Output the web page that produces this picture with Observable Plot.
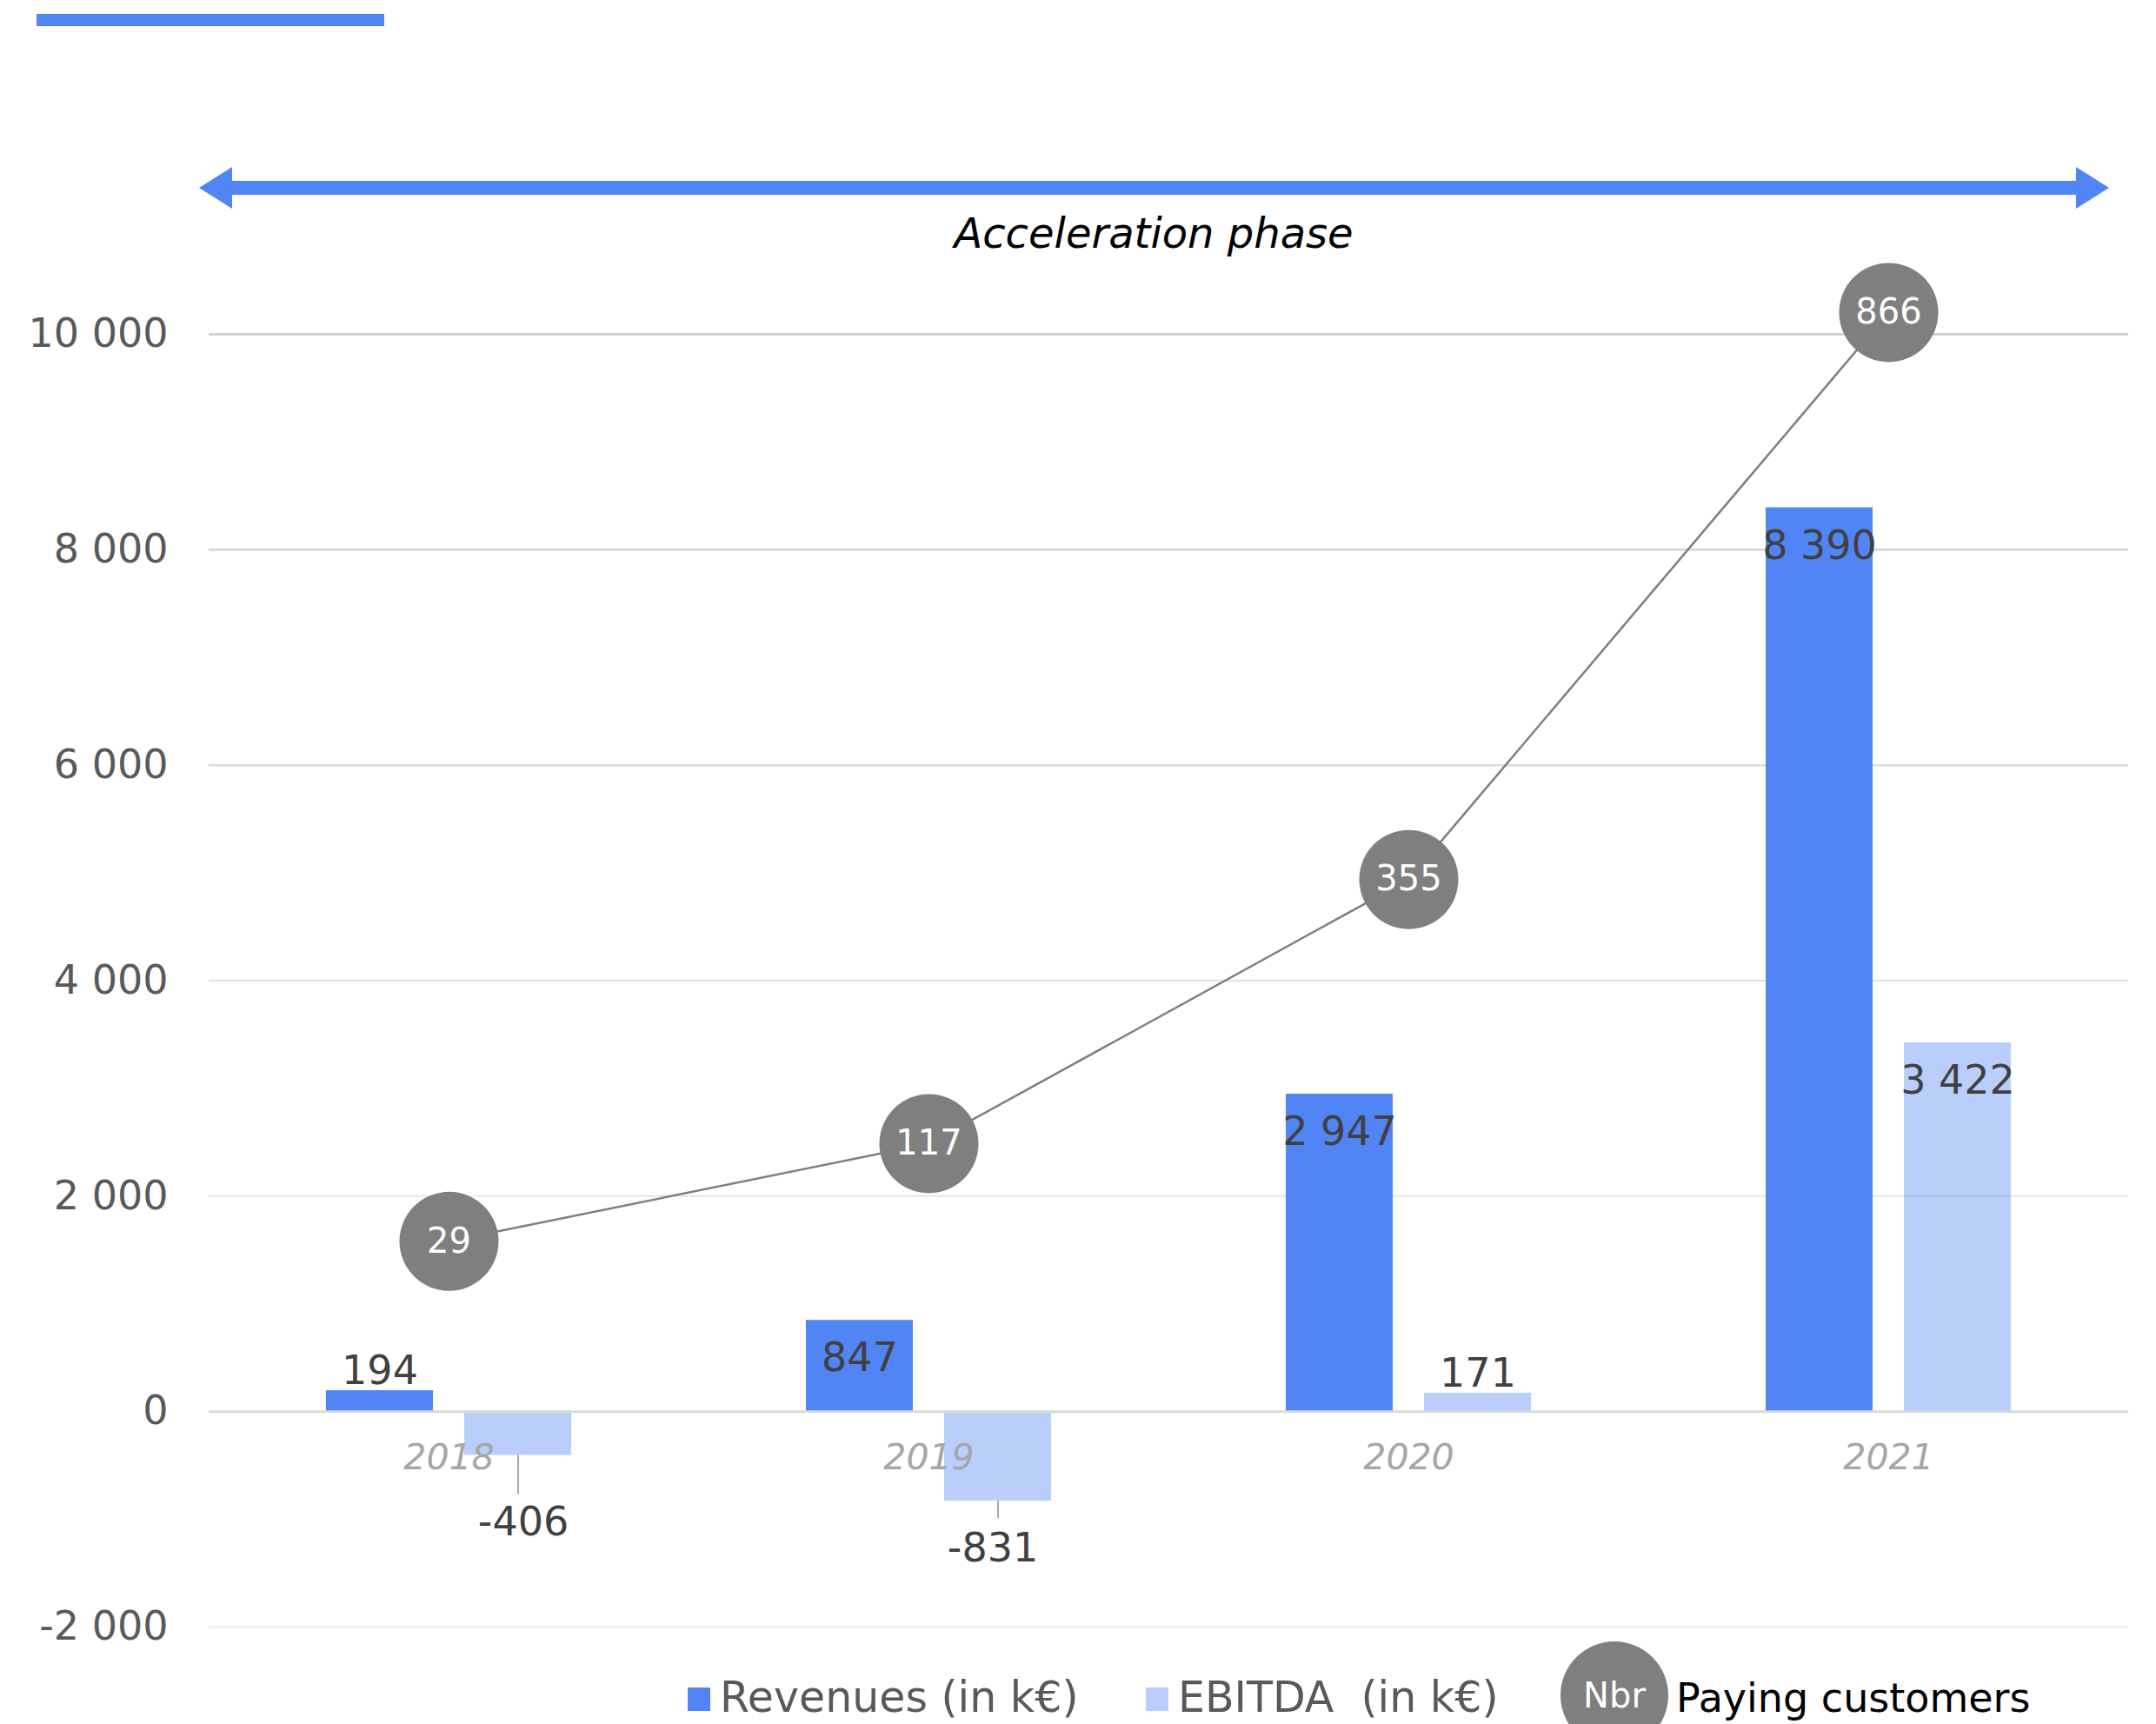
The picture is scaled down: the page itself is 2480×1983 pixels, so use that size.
<!DOCTYPE html>
<html>
<head>
<meta charset="utf-8">
<script src="https://cdn.jsdelivr.net/npm/d3@7"></script>
<script src="https://cdn.jsdelivr.net/npm/@observablehq/plot@0.6"></script>
<style>
  html, body { margin: 0; padding: 0; background: #ffffff; }
  #wrap { position: relative; width: 2480px; height: 1983px; overflow: hidden; font-family: "DejaVu Sans", sans-serif; }
  #wrap > svg, #wrap > figure { position: absolute; left: 0; top: 0; margin: 0; }
  text { white-space: pre; }
</style>
</head>
<body>
<div id="wrap"></div>
<script>
// ---------------- data ----------------
const years = ["2018", "2019", "2020", "2021"];
const revenues = [194, 847, 2947, 8390];          // k€
const ebitda = [-406, -831, 171, 3422];           // k€
const customers = [29, 117, 355, 866];            // paying customers (secondary axis)
const yTicks = [-2000, 0, 2000, 4000, 6000, 8000, 10000];
const seriesNames = ["Revenues (in k€)", "EBITDA  (in k€)"];
const customersName = "Paying customers";
const customersLegendMark = "Nbr";
const phaseLabel = "Acceleration phase";

// ---------------- layout / style ----------------
const FONT = "'DejaVu Sans', sans-serif";
const W = 2480, H = 1983;
const M = { top: 384, right: 32, bottom: 112, left: 240 };
const blue = "#5185F5";
const gray = "#7f7f7f";
const bandW = (W - M.left - M.right) / years.length;
const outerPad = 135, barW = 123, gap = 36;
const revDx = outerPad + barW / 2 - bandW / 2;   // revenue bar centre relative to band centre (negative)
const ebDx = -revDx;

// secondary axis (customers) expressed in primary-axis units
const custAxis = d3.scaleLinear().domain([0, 1000]).range([1282, 11583]);

const fmt = d3.formatLocale({ decimal: ".", thousands: " ", grouping: [3], currency: ["", ""], minus: "-" }).format(",d");

const rows = years.flatMap((year, i) => [
  { year, series: seriesNames[0], value: revenues[i] },
  { year, series: seriesNames[1], value: ebitda[i] }
]);
const revRows = rows.filter(d => d.series === seriesNames[0]);
const ebRows = rows.filter(d => d.series === seriesNames[1]);
const custRows = years.map((year, i) => ({ year, customers: customers[i] }));

const gridColor = { "10000": "#c8c8c8", "8000": "#d2d2d2", "6000": "#dcdcdc", "4000": "#e3e3e3", "2000": "#eaeaea", "-2000": "#efefef" };

const isInside = d => d.value >= 600;
const isAbove = d => d.value >= 0 && d.value < 600;
const isNeg = d => d.value < 0;
const negDy = { "2018": 77, "2019": 55 };
const negLeader = { "2018": 45, "2019": 20 };
const negTextDx = { "2018": 6, "2019": -6 };

function labelMarks(data, dx) {
  const marks = [
    Plot.text(data.filter(isInside), { x: "year", y: "value", text: d => fmt(d.value), dx, dy: 44, fontSize: 46, fill: "#404040" }),
    Plot.text(data.filter(isAbove), { x: "year", y: "value", text: d => fmt(d.value), dx, dy: -22, fontSize: 46, fill: "#404040" })
  ];
  data.filter(isNeg).forEach(d => {
    marks.push(Plot.ruleX([d], { x: "year", y1: "value", y2: "value", dx, insetTop: 0, insetBottom: -negLeader[d.year], stroke: "#a6a6a6", strokeWidth: 2 }));
    marks.push(Plot.text([d], { x: "year", y: "value", text: v => fmt(v.value), dx: dx + negTextDx[d.year], dy: negDy[d.year], fontSize: 46, fill: "#404040" }));
  });
  return marks;
}

const chart = Plot.plot({
  width: W,
  height: H,
  marginTop: M.top,
  marginRight: M.right,
  marginBottom: M.bottom,
  marginLeft: M.left,
  style: { fontFamily: FONT, fontSize: "46px", color: "#595959", background: "transparent", overflow: "visible" },
  x: { domain: years, padding: 0, axis: null },
  y: { domain: [-2000, 10000], ticks: yTicks, tickFormat: fmt, tickSize: 0, tickPadding: 47, label: null },
  marks: [
    ...yTicks.filter(t => t !== 0).map(t => Plot.ruleY([t], { stroke: gridColor[t], strokeWidth: 2.5 })),
    Plot.barY(revRows, { x: "year", y: "value", fill: blue, insetLeft: outerPad, insetRight: bandW - outerPad - barW }),
    Plot.barY(ebRows, { x: "year", y: "value", fill: blue, fillOpacity: 0.4, insetLeft: outerPad + barW + gap, insetRight: outerPad }),
    Plot.ruleY([0], { stroke: "#d9d9d9", strokeWidth: 3 }),
    Plot.text(years, { x: d => d, y: () => 0, text: d => d, dy: 53, fontSize: 41, fontStyle: "italic", fill: "#a6a6a6" }),
    ...labelMarks(revRows, revDx),
    ...labelMarks(ebRows, ebDx),
    Plot.line(custRows, { x: "year", y: d => custAxis(d.customers), stroke: gray, strokeWidth: 2.5 }),
    Plot.dot(custRows, { x: "year", y: d => custAxis(d.customers), r: 57, fill: gray, stroke: "none" }),
    Plot.text(custRows, { x: "year", y: d => custAxis(d.customers), text: d => String(d.customers), fill: "#ffffff", fontSize: 40 })
  ]
});

const wrap = document.getElementById("wrap");
wrap.appendChild(chart);

// ---------------- decorations: top bar, phase arrow, phase label, legend ----------------
const ns = "http://www.w3.org/2000/svg";
const deco = document.createElementNS(ns, "svg");
deco.setAttribute("width", W);
deco.setAttribute("height", H);
deco.style.position = "absolute";
deco.style.left = "0";
deco.style.top = "0";
deco.style.pointerEvents = "none";
deco.innerHTML = `
  <rect x="42" y="16" width="400" height="14" fill="${blue}"></rect>
  <path d="M229,216 L267,192 L267,208 L2388,208 L2388,192 L2426,216 L2388,240 L2388,224 L267,224 L267,240 Z" fill="${blue}"></path>
  <text x="1327" y="285" text-anchor="middle" font-family="${FONT}" font-style="italic" font-size="48" fill="#000000">${phaseLabel}</text>
  <g font-family="${FONT}" font-size="49">
    <rect x="791" y="1941" width="26" height="27" fill="${blue}"></rect>
    <text x="828" y="1969" fill="#595959">${seriesNames[0]}</text>
    <rect x="1318" y="1941" width="26" height="27" fill="${blue}" fill-opacity="0.4"></rect>
    <text x="1355" y="1969" fill="#595959">${seriesNames[1]}</text>
    <circle cx="1857" cy="1950" r="62" fill="${gray}"></circle>
    <text x="1857" y="1964" text-anchor="middle" font-size="40" fill="#ffffff">${customersLegendMark}</text>
    <text x="1928" y="1969" font-size="46" fill="#000000">${customersName}</text>
  </g>
`;
wrap.appendChild(deco);
</script>
</body>
</html>
